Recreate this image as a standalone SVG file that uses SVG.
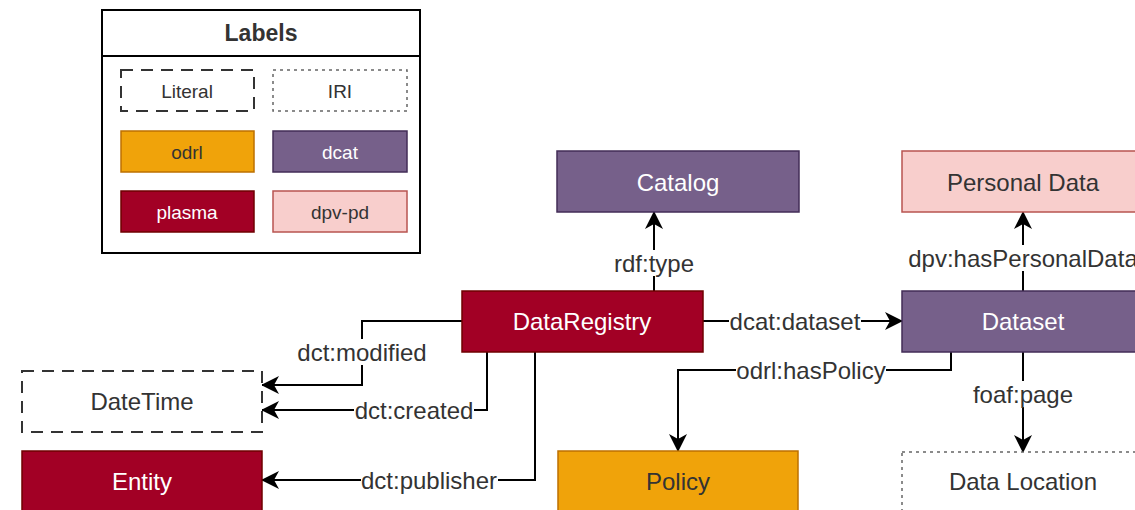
<svg xmlns="http://www.w3.org/2000/svg" width="1135" height="510" viewBox="0 0 1135 510">
<defs>
<style>
text{font-family:"Liberation Sans",Arial,sans-serif;text-anchor:middle;dominant-baseline:central}
.n{font-size:24px}
.l{font-size:19px}
.e{font-size:24px;fill:#333}
.dk{fill:#333}
.wt{fill:#fff}
.plasma{fill:#a20025;stroke:#6f0000;stroke-width:1.5}
.dcat{fill:#76608a;stroke:#432d57;stroke-width:1.5}
.odrl{fill:#f0a30a;stroke:#bd7000;stroke-width:1.5}
.dpv{fill:#f8cecc;stroke:#b85450;stroke-width:1.5}
.lit{fill:#fff;stroke:#333;stroke-width:2;stroke-dasharray:12 8}
.iri{fill:#fff;stroke:#666;stroke-width:1.5;stroke-dasharray:3 4}
.c{fill:none;stroke:#000;stroke-width:2;marker-end:url(#arr)}
.bg{fill:#fff}
</style>
<marker id="arr" markerUnits="userSpaceOnUse" markerWidth="18" markerHeight="18" refX="17" refY="9" orient="auto" viewBox="0 0 18 18">
<path d="M0,0 L18,9 L0,18 L5,9 Z" fill="#000"/>
</marker>
</defs>
<g id="legend">
<rect x="102" y="10" width="318" height="243" fill="#fff" stroke="#000" stroke-width="2"/>
<line x1="102" y1="56" x2="420" y2="56" stroke="#000" stroke-width="2"/>
<text x="261" y="33" class="dk" style="font-size:23px;font-weight:bold">Labels</text>
<rect x="121" y="70" width="133" height="41" class="lit"/>
<text x="187" y="91" class="l dk">Literal</text>
<rect x="273" y="70" width="134" height="41" class="iri"/>
<text x="340" y="91" class="l dk">IRI</text>
<rect x="121" y="131" width="133" height="41" class="odrl"/>
<text x="187" y="152" class="l dk">odrl</text>
<rect x="273" y="131" width="134" height="41" class="dcat"/>
<text x="340" y="152" class="l wt">dcat</text>
<rect x="121" y="191" width="133" height="41" class="plasma"/>
<text x="187" y="212" class="l wt">plasma</text>
<rect x="273" y="191" width="134" height="41" class="dpv"/>
<text x="340" y="212" class="l dk">dpv-pd</text>
</g>
<g id="connectors">
<path class="c" d="M654,291 V212"/>
<rect class="bg" x="613" y="250" width="82" height="26"/>
<text class="e" x="654" y="263">rdf:type</text>
<path class="c" d="M1023,291 V212"/>
<rect class="bg" x="908" y="245" width="230" height="26"/>
<text class="e" x="1023" y="258">dpv:hasPersonalData</text>
<path class="c" d="M703,321 H902"/>
<rect class="bg" x="729" y="308" width="132" height="26"/>
<text class="e" x="795" y="321">dcat:dataset</text>
<path class="c" d="M951,352 V370 H678 V451"/>
<rect class="bg" x="736" y="357" width="150" height="26"/>
<text class="e" x="811" y="370">odrl:hasPolicy</text>
<path class="c" d="M1023,352 V452"/>
<rect class="bg" x="972" y="381" width="102" height="26"/>
<text class="e" x="1023" y="394">foaf:page</text>
<path class="c" d="M462,321 H362 V385 H262"/>
<rect class="bg" x="297" y="339" width="130" height="26"/>
<text class="e" x="362" y="352">dct:modified</text>
<path class="c" d="M487,352 V410 H262"/>
<rect class="bg" x="354" y="397" width="120" height="26"/>
<text class="e" x="414" y="410">dct:created</text>
<path class="c" d="M535,352 V480 H262"/>
<rect class="bg" x="361" y="467" width="137" height="26"/>
<text class="e" x="429" y="480">dct:publisher</text>
</g>
<g id="catalog">
<rect x="557" y="151" width="242" height="61" class="dcat"/>
<text x="678" y="182" class="n wt">Catalog</text>
</g>
<g id="personal-data">
<rect x="902" y="151" width="242" height="61" class="dpv"/>
<text x="1023" y="182" class="n dk">Personal Data</text>
</g>
<g id="data-registry">
<rect x="462" y="291" width="241" height="61" class="plasma"/>
<text x="582" y="321" class="n wt">DataRegistry</text>
</g>
<g id="dataset">
<rect x="902" y="291" width="242" height="61" class="dcat"/>
<text x="1023" y="321" class="n wt">Dataset</text>
</g>
<g id="datetime">
<rect x="22" y="371" width="240" height="61" class="lit"/>
<text x="142" y="401" class="n dk">DateTime</text>
</g>
<g id="entity">
<rect x="22" y="451" width="240" height="61" class="plasma"/>
<text x="142" y="481" class="n wt">Entity</text>
</g>
<g id="policy">
<rect x="558" y="451" width="240" height="61" class="odrl"/>
<text x="678" y="481" class="n dk">Policy</text>
</g>
<g id="data-location">
<rect x="902" y="452" width="242" height="61" class="iri"/>
<text x="1023" y="481" class="n dk">Data Location</text>
</g>
</svg>
